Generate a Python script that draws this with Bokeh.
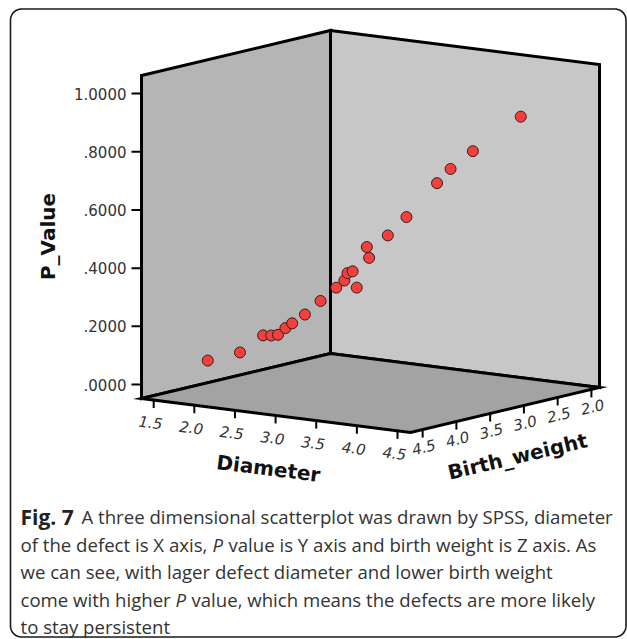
import math
import numpy as np
from bokeh.plotting import figure
from bokeh.models import Range1d, ColumnDataSource
from bokeh.embed import file_html
from bokeh.resources import INLINE
from bokeh.core.properties import value

# ---------------- data ----------------
diameter = [1.85, 2.08, 2.24, 2.29, 2.34, 2.39, 2.44, 2.53, 2.64, 2.75, 2.80,
            2.83, 2.86, 3.06, 2.98, 2.96, 3.11, 3.24, 3.45, 3.55, 3.70, 4.04]
birth_weight = [4.30, 4.10, 3.95, 3.89, 3.85, 3.80, 3.76, 3.68, 3.58, 3.48, 3.42,
                3.41, 3.37, 3.55, 3.27, 3.28, 3.15, 3.03, 2.83, 2.75, 2.60, 2.30]
p_value = [0.079, 0.104, 0.160, 0.158, 0.160, 0.182, 0.198, 0.227, 0.272, 0.316, 0.339,
           0.365, 0.370, 0.331, 0.415, 0.452, 0.490, 0.551, 0.664, 0.712, 0.770, 0.884]

p_ticks = [0.0, 0.2, 0.4, 0.6, 0.8, 1.0]
p_tick_labels = [".0000", ".2000", ".4000", ".6000", ".8000", "1.0000"]
diameter_ticks = [1.5, 2.0, 2.5, 3.0, 3.5, 4.0, 4.5]
diameter_tick_labels = ["1.5", "2.0", "2.5", "3.0", "3.5", "4.0", "4.5"]
weight_ticks = [4.5, 4.0, 3.5, 3.0, 2.5, 2.0]
weight_tick_labels = ["4.5", "4.0", "3.5", "3.0", "2.5", "2.0"]

x_title = "Diameter"
y_title = "P_Value"
z_title = "Birth_weight"

caption_fig = "Fig. 7"
caption_lines = [
    [("A three dimensional scatterplot was drawn by SPSS, diameter", "normal")],
    [("of the defect is X axis,", "normal"), ("P", "italic"),
     ("value is Y axis and birth weight is Z axis. As", "normal")],
    [("we can see, with lager defect diameter and lower birth weight", "normal")],
    [("come with higher", "normal"), ("P", "italic"),
     ("value, which means the defects are more likely", "normal")],
    [("to stay persistent", "normal")],
]

# ---------------- 3D box extents (data units) ----------------
D_MIN, D_MAX = 1.35, 4.66
B_MIN, B_MAX = 1.88, 4.68
P_MIN, P_MAX = -0.048, 1.062

# projection layout (screen units of the drawing)
OX, OY = 141.0, 398.0      # corner: D_MIN, P_MIN, B_MAX
DX, DY = 269.0, 34.0       # full diameter span
BX, BY = 189.0, -45.0      # full birth-weight span (decreasing)
PH = 323.0                 # full P span (upwards)


def proj(d, pv, b):
    d = np.asarray(d, dtype=float)
    pv = np.asarray(pv, dtype=float)
    b = np.asarray(b, dtype=float)
    u = (d - D_MIN) / (D_MAX - D_MIN)
    w = (B_MAX - b) / (B_MAX - B_MIN)
    v = (pv - P_MIN) / (P_MAX - P_MIN)
    return OX + u * DX + w * BX, OY + u * DY + w * BY - v * PH


W, H = 627, 639
p = figure(width=W, height=H,
           x_range=Range1d(0, W), y_range=Range1d(H, 0),
           output_backend="svg", toolbar_location=None,
           x_axis_type=None, y_axis_type=None, min_border=0)
p.outline_line_color = None
p.background_fill_color = "white"
p.border_fill_color = "white"

# rounded frame
def rounded_rect(x0, y0, x1, y1, r, n=10):
    xs, ys = [], []
    corners = [(x1 - r, y0 + r, -90, 0), (x1 - r, y1 - r, 0, 90),
               (x0 + r, y1 - r, 90, 180), (x0 + r, y0 + r, 180, 270)]
    for cx, cy, a0, a1 in corners:
        for t in np.linspace(math.radians(a0), math.radians(a1), n):
            xs.append(cx + r * math.cos(t))
            ys.append(cy + r * math.sin(t))
    xs.append(xs[0]); ys.append(ys[0])
    return xs, ys

fx, fy = rounded_rect(10, 8.5, 625.5, 636.5, 11)
p.line(fx, fy, line_color="#1a1a1a", line_width=1.6)

# walls and floor
walls = [
    ([D_MIN, D_MIN, D_MIN, D_MIN], [P_MAX, P_MAX, P_MIN, P_MIN], [B_MAX, B_MIN, B_MIN, B_MAX], "#b5b5b5"),
    ([D_MIN, D_MAX, D_MAX, D_MIN], [P_MAX, P_MAX, P_MIN, P_MIN], [B_MIN, B_MIN, B_MIN, B_MIN], "#c7c7c7"),
    ([D_MIN, D_MIN, D_MAX, D_MAX], [P_MIN, P_MIN, P_MIN, P_MIN], [B_MAX, B_MIN, B_MIN, B_MAX], "#a3a3a3"),
]
for d, pv, b, col in walls:
    wx, wy = proj(d, pv, b)
    p.patch(list(wx), list(wy), fill_color=col, line_color="black", line_width=3,
            line_join="miter")

# points
sx, sy = proj(diameter, p_value, birth_weight)
src = ColumnDataSource(dict(x=sx, y=sy))
p.scatter("x", "y", source=src, size=11, fill_color="#f2403c",
          line_color="#3a1c1c", line_width=1)

font = value("DejaVu Sans")

# P axis ticks (front-left vertical edge)
tx, ty = proj([D_MIN] * len(p_ticks), p_ticks, [B_MAX] * len(p_ticks))
p.segment(x0=tx - 10, y0=ty, x1=tx, y1=ty, line_color="black", line_width=2)
p.text(x=tx - 15, y=ty, text=p_tick_labels, text_font=font, text_font_size="15px",
       text_color="#333333", text_align="right", text_baseline="middle")

# diameter axis
dang = -math.atan2(DY, DX)
tx, ty = proj(diameter_ticks, [P_MIN] * len(diameter_ticks), [B_MAX] * len(diameter_ticks))
p.segment(x0=tx, y0=ty, x1=tx, y1=ty + 8, line_color="black", line_width=2)
p.text(x=tx - 3, y=ty + 22, text=diameter_tick_labels, angle=dang, text_font=font,
       text_font_size="15px", text_font_style="italic", text_color="#333333",
       text_align="center", text_baseline="middle")

# birth weight axis
bang = -math.atan2(BY, BX)
tx, ty = proj([D_MAX] * len(weight_ticks), [P_MIN] * len(weight_ticks), weight_ticks)
p.segment(x0=tx, y0=ty, x1=tx, y1=ty + 8, line_color="black", line_width=2)
p.text(x=tx + 1, y=ty + 17, text=weight_tick_labels, angle=bang, text_font=font,
       text_font_size="15px", text_font_style="italic", text_color="#333333",
       text_align="center", text_baseline="middle")

# axis titles
p.text(x=[47], y=[236], text=[y_title], angle=math.pi / 2, text_font=font,
       text_font_size="20px", text_font_style="bold", text_color="#111111",
       text_align="center", text_baseline="middle")
p.text(x=[268], y=[468], text=[x_title], angle=dang, text_font=font,
       text_font_size="20px", text_font_style="bold", text_color="#111111",
       text_align="center", text_baseline="middle")
p.text(x=[517], y=[456], text=[z_title], angle=bang, text_font=font,
       text_font_size="20px", text_font_style="bold", text_color="#111111",
       text_align="center", text_baseline="middle")

# caption
cap_font = value("Open Sans")
baselines = [516, 543.5, 571, 598.5, 626]
seg_x = [[81], [20, 212, 228], [20], [20, 175, 191], [20]]
p.text(x=[20], y=[baselines[0]], text=[caption_fig], text_font=cap_font,
       text_font_size="21px", text_font_style="bold", text_color="#222222",
       text_align="left", text_baseline="alphabetic")
for li, segs in enumerate(caption_lines):
    for si, (txt, style) in enumerate(segs):
        p.text(x=[seg_x[li][si]], y=[baselines[li]], text=[txt], text_font=cap_font,
               text_font_size="18.6px", text_font_style=style, text_color="#333333",
               text_align="left", text_baseline="alphabetic")

open("out.html", "w").write(file_html(p, INLINE))
